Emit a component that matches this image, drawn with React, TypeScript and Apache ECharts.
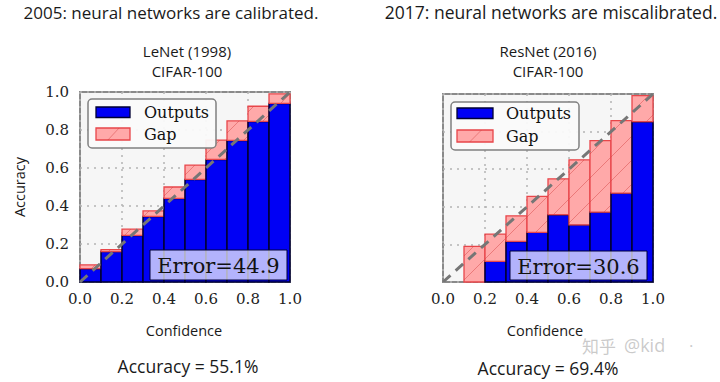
import React, { useEffect, useRef } from "react";
import * as echarts from "echarts";

const binStarts = [0.0, 0.1, 0.2, 0.3, 0.4, 0.5, 0.6, 0.7, 0.8, 0.9];
const binWidth = 0.1;
const lenetOutputs = [0.07, 0.16, 0.245, 0.345, 0.44, 0.54, 0.645, 0.745, 0.845, 0.94];
const lenetGapTops = [0.09, 0.17, 0.278, 0.374, 0.5, 0.615, 0.747, 0.848, 0.925, 0.99];
const resnetOutputs = [0, 0, 0.11, 0.216, 0.264, 0.358, 0.304, 0.372, 0.473, 0.853];
const resnetGapTops = [0, 0.19, 0.255, 0.352, 0.455, 0.549, 0.65, 0.752, 0.858, 0.991];
const diagonal = [[0, 0], [1, 1]];
const tickValues = ["0.0", "0.2", "0.4", "0.6", "0.8", "1.0"];
const lenetError = "Error=44.9";
const resnetError = "Error=30.6";
const lenetAccuracy = "Accuracy = 55.1%";
const resnetAccuracy = "Accuracy = 69.4%";

const SERIF = "'DejaVu Serif', serif";
const SANS = "'Open Sans', sans-serif";
const BLUE = "#0000f5";
const GAP_FILL = "#ffa9a9";
const GAP_EDGE = "#e8464a";
const HATCH = 24;

function renderBars(params: any, api: any) {
  const x0 = api.value(0);
  const x1 = api.value(1);
  const o = api.value(2);
  const g = api.value(3);
  const pBase = api.coord([x0, 0]);
  const pOut = api.coord([x1, o]);
  const pGap = api.coord([x1, g]);
  const children: any[] = [];
  const left = pBase[0];
  const w = pOut[0] - pBase[0];
  if (o > 0) {
    children.push({
      type: "rect",
      shape: { x: left, y: pOut[1], width: w, height: pBase[1] - pOut[1] },
      style: { fill: BLUE, stroke: "#000033", lineWidth: 1.5 },
    });
  }
  if (g > o) {
    const y0 = pGap[1];
    const y1 = pOut[1];
    children.push({
      type: "rect",
      shape: { x: left, y: y0, width: w, height: y1 - y0 },
      style: { fill: GAP_FILL, stroke: GAP_EDGE, lineWidth: 1.3 },
    });
    const xa = left;
    const xb = left + w;
    const cMin = xa + y0;
    const cMax = xb + y1;
    let c = Math.ceil(cMin / HATCH) * HATCH;
    for (; c <= cMax; c += HATCH) {
      const lo = Math.max(xa, c - y1);
      const hi = Math.min(xb, c - y0);
      if (hi - lo > 0.5) {
        children.push({
          type: "line",
          shape: { x1: lo, y1: c - lo, x2: hi, y2: c - hi },
          style: { stroke: "rgba(210,60,60,0.55)", lineWidth: 0.8 },
        });
      }
    }
  }
  return { type: "group", children };
}

function legendGraphics(bx: number, by: number, bw: number, bh: number, sx: number, sw: number, y1: number, y2: number, tx: number) {
  return [
    {
      type: "rect",
      z: 100,
      shape: { x: bx, y: by, width: bw, height: bh, r: 4 },
      style: { fill: "rgba(250,250,250,0.95)", stroke: "#808080", lineWidth: 1.5 },
    },
    {
      type: "rect",
      z: 101,
      shape: { x: sx, y: y1 - 5, width: sw, height: 10.5 },
      style: { fill: BLUE, stroke: "#000033", lineWidth: 1.3 },
    },
    {
      type: "rect",
      z: 101,
      shape: { x: sx, y: y2 - 6, width: sw, height: 12 },
      style: { fill: GAP_FILL, stroke: GAP_EDGE, lineWidth: 1.3 },
    },
    {
      type: "line",
      z: 102,
      shape: { x1: sx + sw * 0.35, y1: y2 + 6, x2: sx + sw * 0.68, y2: y2 - 6 },
      style: { stroke: "rgba(210,60,60,0.55)", lineWidth: 0.8 },
    },
    {
      type: "text",
      z: 102,
      x: tx,
      y: y1,
      style: { text: "Outputs", font: `16px ${SERIF}`, fill: "#111", align: "left", verticalAlign: "middle" },
    },
    {
      type: "text",
      z: 102,
      x: tx,
      y: y2,
      style: { text: "Gap", font: `16px ${SERIF}`, fill: "#111", align: "left", verticalAlign: "middle" },
    },
  ];
}

function errorBox(x: number, y: number, w: number, h: number, text: string) {
  return [
    {
      type: "rect",
      z: 100,
      shape: { x, y, width: w, height: h },
      style: { fill: "rgba(255,255,255,0.7)", stroke: "#00003a", lineWidth: 1 },
    },
    {
      type: "text",
      z: 101,
      x: x + w / 2,
      y: y + h / 2 + 1,
      style: { text, font: `21px ${SERIF}`, fill: "#111", align: "center", verticalAlign: "middle" },
    },
  ];
}

function sansText(text: string, x: number, y: number, size: number, extra: any = {}) {
  return {
    type: "text",
    z: 50,
    x,
    y,
    ...extra,
    style: { text, font: `${size}px ${SANS}`, fill: "#1a1a1a", align: "center", verticalAlign: "middle", lineHeight: size },
  };
}

function watermarkText(text: string, x: number, y: number, font: string, size: number) {
  return {
    type: "text",
    z: 60,
    x,
    y,
    silent: true,
    style: { text, font, fill: "rgba(150,150,150,0.5)", align: "left", verticalAlign: "middle", lineHeight: size },
  };
}

export default function App() {
  const ref = useRef<HTMLDivElement>(null);
  useEffect(() => {
    if (!ref.current) return;
    const chart = echarts.init(ref.current, undefined, { renderer: "svg" });
    const lenetData = binStarts.map((s, i) => [s, s + binWidth, lenetOutputs[i], lenetGapTops[i]]);
    const resnetData = binStarts.map((s, i) => [s, s + binWidth, resnetOutputs[i], resnetGapTops[i]]);
    const axisLabelFmt = (v: number) => tickValues[Math.round(v * 5)] ?? v.toFixed(1);
    const splitLine = { show: true, lineStyle: { color: "#b4b4b4", type: [2, 5] as any, width: 1.5 } };
    const makeX = (gridIndex: number) => ({
      type: "value",
      gridIndex,
      min: 0,
      max: 1,
      interval: 0.2,
      axisLine: { show: false },
      axisTick: { show: false },
      splitLine,
      axisLabel: { show: true, formatter: axisLabelFmt, margin: 9, color: "#222", fontFamily: "DejaVu Serif", fontSize: 15 },
    });
    const makeY = (gridIndex: number, showLabel: boolean) => ({
      type: "value",
      gridIndex,
      min: 0,
      max: 1,
      interval: 0.2,
      axisLine: { show: false },
      axisTick: { show: false },
      splitLine,
      axisLabel: { show: showLabel, formatter: axisLabelFmt, margin: 11, color: "#222", fontFamily: "DejaVu Serif", fontSize: 15 },
    });
    const gridStyle = { show: true, backgroundColor: "#f6f6f6", borderColor: "#8a8a8a", borderWidth: 2 };
    const option: any = {
      animation: false,
      backgroundColor: "#ffffff",
      grid: [
        { left: 80, top: 92, width: 210, height: 190, ...gridStyle },
        { left: 443, top: 94, width: 210, height: 188, ...gridStyle },
      ],
      xAxis: [makeX(0), makeX(1)],
      yAxis: [makeY(0, true), makeY(1, false)],
      series: [
        { type: "custom", xAxisIndex: 0, yAxisIndex: 0, renderItem: renderBars, data: lenetData, z: 2, silent: true },
        { type: "custom", xAxisIndex: 1, yAxisIndex: 1, renderItem: renderBars, data: resnetData, z: 2, silent: true },
        {
          type: "line", xAxisIndex: 0, yAxisIndex: 0, data: diagonal, z: 3, symbol: "none", silent: true,
          lineStyle: { color: "#767676", width: 3, type: [10, 7] },
        },
        {
          type: "line", xAxisIndex: 1, yAxisIndex: 1, data: diagonal, z: 3, symbol: "none", silent: true,
          lineStyle: { color: "#767676", width: 3, type: [10, 7] },
        },
      ],
      graphic: [
        sansText("2005: neural networks are calibrated.", 171, 12, 17),
        sansText("2017: neural networks are miscalibrated.", 551, 12, 17.5),
        sansText("LeNet (1998)", 187, 51, 15),
        sansText("CIFAR-100", 187, 71, 15),
        sansText("ResNet (2016)", 548, 51, 15),
        sansText("CIFAR-100", 548, 71, 15),
        sansText("Accuracy", 19, 187, 14.5, { rotation: Math.PI / 2 }),
        sansText("Confidence", 184, 330, 14.5),
        sansText("Confidence", 545, 330, 14.5),
        sansText(lenetAccuracy, 188, 366, 17.5),
        sansText(resnetAccuracy, 548, 368, 17.5),
        watermarkText("知乎", 582, 345, "17px 'Noto Sans CJK SC', sans-serif", 16),
        watermarkText("@kid", 624, 345, `18px ${SANS}`, 16),
        watermarkText("·", 689, 345, `17px ${SANS}`, 16),
        ...legendGraphics(88, 99, 128, 49, 96, 34, 112, 134, 144),
        ...legendGraphics(451, 102, 128, 48, 457, 36, 113, 136, 506),
        ...errorBox(150, 250, 137, 30, lenetError),
        ...errorBox(510, 251, 137, 29, resnetError),
      ],
    };
    chart.setOption(option);
    return () => chart.dispose();
  }, []);
  return <div ref={ref} style={{ position: "absolute", left: 0, top: 0, width: 720, height: 382 }} />;
}
